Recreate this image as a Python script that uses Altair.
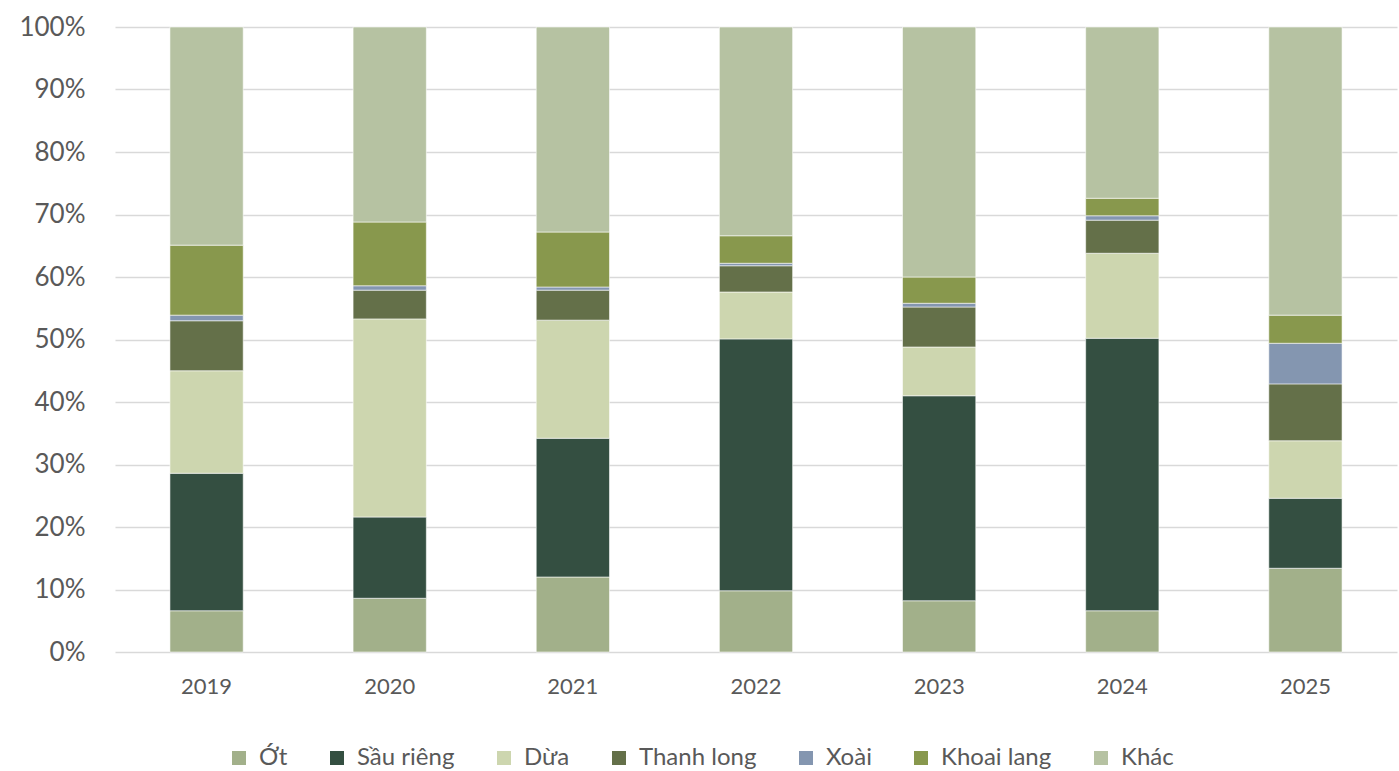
import altair as alt
import pandas as pd

years = ["2019", "2020", "2021", "2022", "2023", "2024", "2025"]
series = ["Ớt", "Sầu riêng", "Dừa", "Thanh long", "Xoài", "Khoai lang", "Khác"]
colors = ["#A2B08A", "#344F41", "#CDD6AF", "#647049", "#8496B0", "#88984D", "#B6C2A2"]

ot = [6.6, 8.6, 12.0, 9.8, 8.2, 6.6, 13.4]
sau_rieng = [22.0, 13.0, 22.2, 40.3, 32.8, 43.6, 11.2]
dua = [16.4, 31.7, 18.9, 7.5, 7.8, 13.6, 9.2]
thanh_long = [8.0, 4.6, 4.8, 4.2, 6.4, 5.3, 9.1]
xoai = [0.9, 0.7, 0.5, 0.4, 0.6, 0.7, 6.5]
khoai_lang = [11.2, 10.2, 8.8, 4.4, 4.2, 2.8, 4.5]
khac = [34.9, 31.2, 32.8, 33.4, 40.0, 27.4, 46.1]

values = [ot, sau_rieng, dua, thanh_long, xoai, khoai_lang, khac]
rows = []
for si, (name, vals) in enumerate(zip(series, values)):
    for y, v in zip(years, vals):
        rows.append({"year": y, "series": name, "value": v, "order": si})
df = pd.DataFrame(rows)

FONT = "Lato"

chart = alt.Chart(df).mark_bar(stroke="#ffffff", strokeWidth=0.8, strokeOpacity=0.7).encode(
    x=alt.X("year:N", sort=years, title=None,
            scale=alt.Scale(paddingInner=0.6, paddingOuter=0.3),
            axis=alt.Axis(labelAngle=0, labelFontSize=22, labelColor="#595959", labelFont=FONT,
                          domain=False, ticks=False, labelPadding=24)),
    y=alt.Y("value:Q", stack="zero", title=None,
            scale=alt.Scale(domain=[0, 100], nice=False),
            axis=alt.Axis(values=list(range(0, 101, 10)), labelExpr="datum.value + '%'",
                          labelFontSize=26, labelColor="#595959", labelFont=FONT,
                          domain=False, ticks=False, labelPadding=30,
                          gridColor="#D9D9D9", gridWidth=1.5)),
    color=alt.Color("series:N", sort=series, title=None,
                    scale=alt.Scale(domain=series, range=colors),
                    legend=alt.Legend(orient="none", legendX=112, legendY=719, direction="horizontal",
                                      symbolType="square", symbolSize=196, symbolStrokeWidth=0,
                                      labelFontSize=24, labelColor="#595959", labelFont=FONT,
                                      columnPadding=37, symbolOffset=0, labelOffset=8)),
    order=alt.Order("order:Q", sort="ascending"),
).properties(
    width=1282, height=625,
    autosize=alt.AutoSizeParams(type="none"),
    padding={"left": 115, "top": 27, "right": 2, "bottom": 119},
).configure(background="#ffffff").configure_view(stroke=None)

chart.save("out.html", embed_options={"renderer": "svg", "actions": False})
